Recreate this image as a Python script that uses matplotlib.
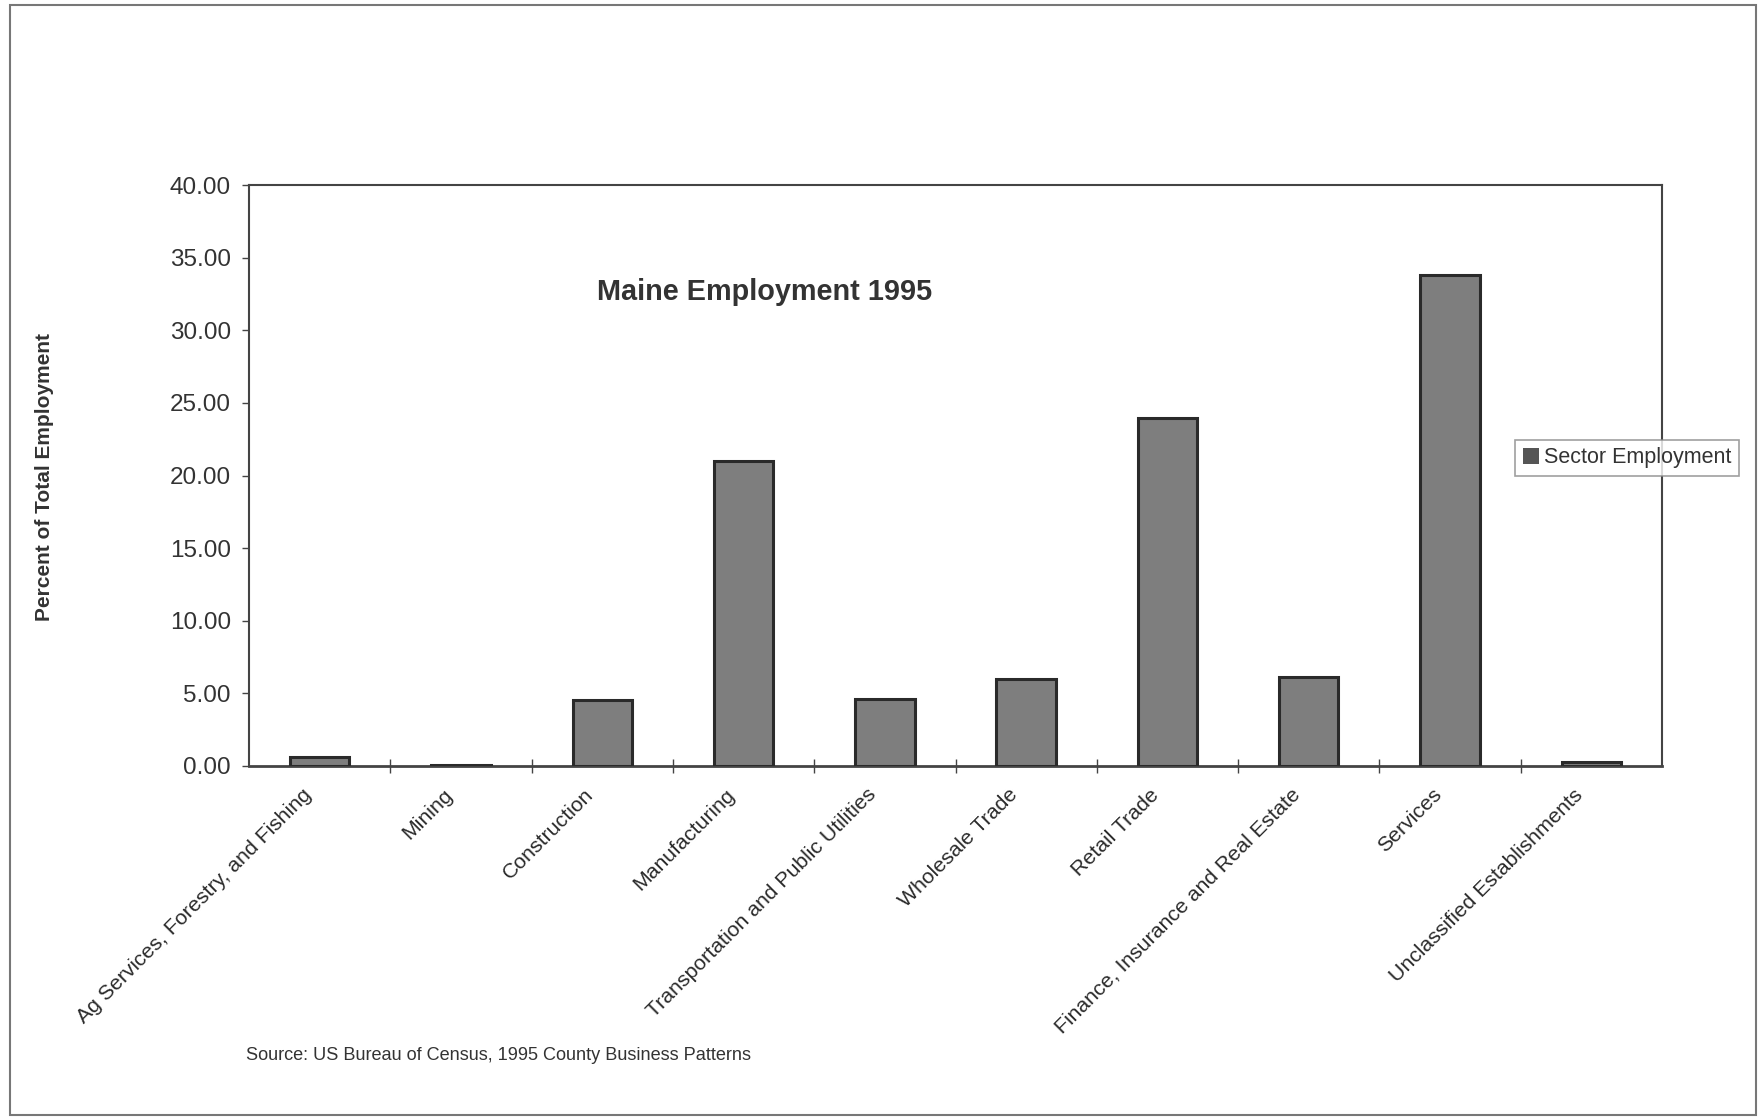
import matplotlib
matplotlib.use("Agg")
import matplotlib.pyplot as plt
from matplotlib.patches import Rectangle
from matplotlib.transforms import ScaledTranslation

plt.rcParams['font.family'] = ['Liberation Sans', 'DejaVu Sans']

categories = ["Ag Services, Forestry, and Fishing", "Mining", "Construction",
              "Manufacturing", "Transportation and Public Utilities",
              "Wholesale Trade", "Retail Trade",
              "Finance, Insurance and Real Estate", "Services",
              "Unclassified Establishments"]
values = [0.62, 0.08, 4.56, 20.97, 4.64, 5.96, 23.98, 6.11, 33.81, 0.25]
yticks = [0, 5, 10, 15, 20, 25, 30, 35, 40]

W, H = 1761, 1119
fig = plt.figure(figsize=(W / 100, H / 100), dpi=100)
fig.patch.set_facecolor("white")

# outer frame
fig.add_artist(Rectangle((10 / W, 4 / H), 1746 / W, 1110 / H, transform=fig.transFigure,
                         fill=False, edgecolor="#777777", linewidth=1.5))

left, right, top, bottom = 249, 1662, 185, 766
ax = fig.add_axes([left / W, 1 - bottom / H, (right - left) / W, (bottom - top) / H])

x = list(range(len(categories)))
ax.bar(x, values, width=0.42, color="#7e7e7e", edgecolor="#2a2a2a", linewidth=2.2,
       label="Sector Employment", zorder=3)

ax.set_xlim(-0.5, len(categories) - 0.5)
ax.set_ylim(0, 40)
ax.set_yticks(yticks)
ax.set_yticklabels([f"{v:.2f}" for v in yticks], fontsize=17.5, color="#333333")
ax.tick_params(axis='y', length=5, width=1, color="#444444", pad=8, direction='out')

ax.set_xticks([i + 0.5 for i in x[:-1]], minor=False)
ax.set_xticklabels([])
ax.tick_params(axis='x', which='major', length=10, direction='inout', width=1, color="#444444")
ax.set_xticks(x, minor=True)
ax.set_xticklabels(categories, minor=True, rotation=45, ha='right', rotation_mode='anchor',
                   fontsize=15.3, color="#2a2a2a")
ax.tick_params(axis='x', which='minor', length=0, pad=8)
offset = ScaledTranslation(-18 / 100, -8 / 100, fig.dpi_scale_trans)
for lab in ax.get_xticklabels(minor=True):
    lab.set_transform(lab.get_transform() + offset)

for s in ax.spines.values():
    s.set_color("#444444")
    s.set_linewidth(1.5)
ax.spines['bottom'].set_linewidth(2)

ax.text(0.365, 0.815, "Maine Employment 1995", transform=ax.transAxes, ha='center',
        va='center', fontsize=20.8, fontweight='bold', color="#333333")

fig.text(45 / W, 1 - 477 / H, "Percent of Total Employment", rotation=90, ha='center',
         va='center', fontsize=15, fontweight='bold', color="#333333")

leg = fig.legend(loc='center', bbox_to_anchor=(1627 / W, 1 - 458 / H), fontsize=15.5,
                 frameon=True, fancybox=False, handlelength=0.75, handleheight=0.75,
                 handletextpad=0.25, borderpad=0.35, labelcolor="#333333")
leg.get_frame().set_edgecolor("#888888")
leg.get_frame().set_linewidth(1.2)
for h in leg.legend_handles:
    h.set_linewidth(0)
    h.set_facecolor("#555555")

fig.text(246 / W, 1 - 1056 / H, "Source: US Bureau of Census, 1995 County Business Patterns",
         ha='left', va='center', fontsize=13.1, color="#333333")

fig.savefig("out.png", dpi=100, facecolor="white")
